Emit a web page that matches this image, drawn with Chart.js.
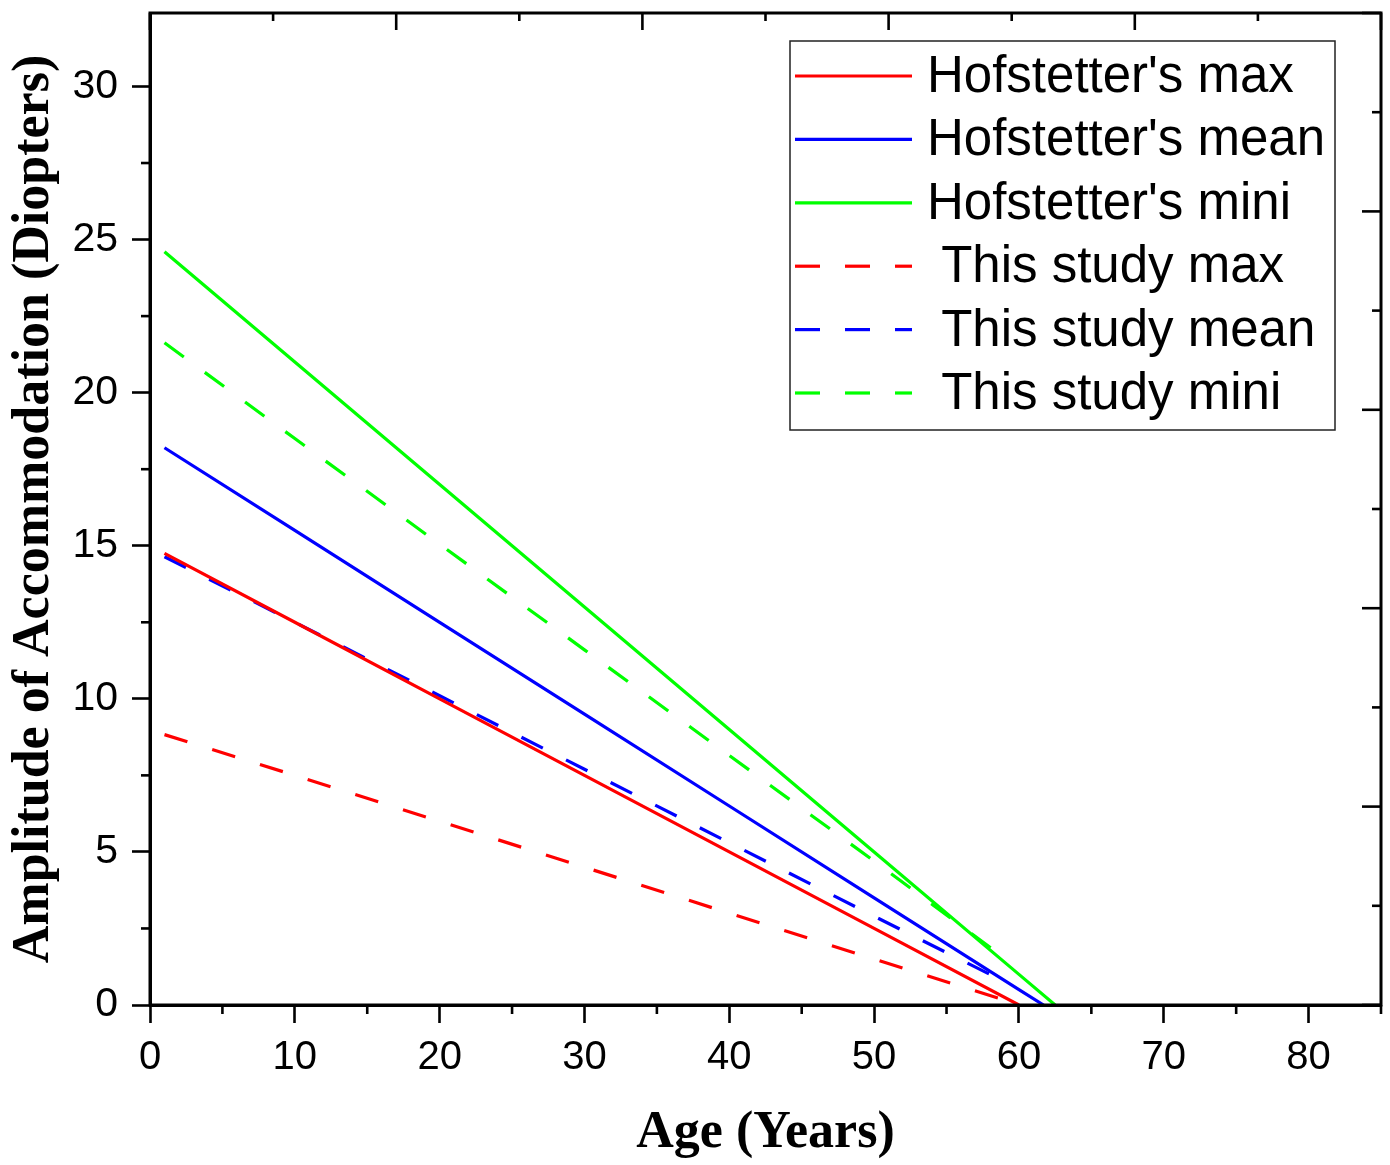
<!DOCTYPE html>
<html>
<head>
<meta charset="utf-8">
<script src="https://cdn.jsdelivr.net/npm/chart.js@4.4.1/dist/chart.umd.min.js"></script>
<style>
  body { margin: 0; background: #fff; }
  #wrap { width: 1390px; height: 1165px; }
</style>
</head>
<body>
<div id="wrap"><canvas id="ampChart" width="1390" height="1165"></canvas></div>
<script>
// values (age in years, amplitude in diopters)
var hofMaxAge = [1, 10, 20, 30, 40, 50, 60];
var hofMaxVal = [14.75, 12.5, 10.0, 7.5, 5.0, 2.5, 0.0];

var hofMeanAge = [1, 10, 20, 30, 40, 50, 60, 61.7];
var hofMeanVal = [18.2, 15.5, 12.5, 9.5, 6.5, 3.5, 0.5, 0.0];

var hofMiniAge = [1, 10, 20, 30, 40, 50, 60, 62.5];
var hofMiniVal = [24.6, 21.0, 17.0, 13.0, 9.0, 5.0, 1.0, 0.0];

var studyMaxAge = [1, 10, 20, 30, 40, 50, 59.4];
var studyMaxVal = [8.83, 7.5, 6.0, 4.5, 3.0, 1.5, 0.1];

var studyMeanAge = [1, 10, 20, 30, 40, 50, 58.2];
var studyMeanVal = [14.64, 12.5, 10.1, 7.7, 5.3, 2.9, 0.95];

var studyMiniAge = [1, 10, 20, 30, 40, 50, 58.1];
var studyMiniVal = [21.63, 18.5, 15.05, 11.6, 8.15, 4.7, 1.85];

var seriesNames = ["Hofstetter's max", "Hofstetter's mean", "Hofstetter's mini",
                   " This study max", " This study mean", " This study mini"];

var xTitle = "Age (Years)";
var yTitle = "Amplitude of Accommodation (Diopters)";

// pair up ages and values into {x, y} points
function pts(ages, vals) {
  return ages.map(function (a, i) { return { x: a, y: vals[i] }; });
}

function lineSet(label, ages, vals, color, dashed) {
  return {
    label: label,
    data: pts(ages, vals),
    borderColor: color,
    borderWidth: 3.2,
    borderDash: dashed ? [24, 26] : [],
    pointRadius: 0,
    fill: false,
    tension: 0
  };
}

var ctx = document.getElementById("ampChart").getContext("2d");

// frame, minor ticks, inward top/right ticks and the boxed legend
var frameAndLegend = {
  id: "frameAndLegend",
  afterDraw: function (chart) {
    var c = chart.ctx, a = chart.chartArea, s = chart.scales;
    c.save();
    c.strokeStyle = "#000";
    c.lineCap = "butt";

    c.lineWidth = 2.6;
    // minor ticks on bottom and left (outward)
    s.x.ticks.forEach(function (t) {
      if (t.value % 10 !== 0) {
        var px = s.x.getPixelForValue(t.value);
        c.beginPath(); c.moveTo(px, a.bottom); c.lineTo(px, a.bottom + 9); c.stroke();
      }
    });
    s.y.ticks.forEach(function (t) {
      if (t.value % 5 !== 0) {
        var py = s.y.getPixelForValue(t.value);
        c.beginPath(); c.moveTo(a.left - 9, py); c.lineTo(a.left, py); c.stroke();
      }
    });
    // top and right ticks (inward)
    s.x2.ticks.forEach(function (t) {
      var px = s.x2.getPixelForValue(t.value);
      var len = t.value % 1 === 0 ? 17 : 8;
      c.beginPath(); c.moveTo(px, a.top); c.lineTo(px, a.top + len); c.stroke();
    });
    s.y2.ticks.forEach(function (t) {
      var py = s.y2.getPixelForValue(t.value);
      var len = t.value % 1 === 0 ? 19 : 9;
      c.beginPath(); c.moveTo(a.right, py); c.lineTo(a.right - len, py); c.stroke();
    });

    // frame
    c.lineWidth = 3;
    c.strokeRect(a.left, a.top, a.right - a.left, a.bottom - a.top);

    // legend box
    var bx = a.left + 640, by = a.top + 28, bw = 545, bh = 389;
    c.fillStyle = "#fff";
    c.fillRect(bx, by, bw, bh);
    c.lineWidth = 1.5;
    c.strokeStyle = "#222";
    c.strokeRect(bx, by, bw, bh);

    c.font = "51px 'Liberation Sans', Arial, sans-serif";
    c.textBaseline = "middle";
    c.textAlign = "left";
    chart.data.datasets.forEach(function (ds, i) {
      var ry = by + 35 + i * 63.4;
      c.strokeStyle = ds.borderColor;
      c.lineWidth = 3.2;
      c.setLineDash(ds.borderDash.length ? [25, 25] : []);
      c.beginPath(); c.moveTo(bx + 5, ry); c.lineTo(bx + 122, ry); c.stroke();
      c.setLineDash([]);
      c.fillStyle = "#000";
      c.fillText(ds.label, bx + 137, ry + 2);
    });
    c.restore();
  }
};

var ampChart = new Chart(ctx, {
  type: "line",
  data: {
    datasets: [
      lineSet(seriesNames[0], hofMaxAge, hofMaxVal, "#ff0000", false),
      lineSet(seriesNames[1], hofMeanAge, hofMeanVal, "#0000ff", false),
      lineSet(seriesNames[2], hofMiniAge, hofMiniVal, "#00ff00", false),
      lineSet(seriesNames[3], studyMaxAge, studyMaxVal, "#ff0000", true),
      lineSet(seriesNames[4], studyMeanAge, studyMeanVal, "#0000ff", true),
      lineSet(seriesNames[5], studyMiniAge, studyMiniVal, "#00ff00", true)
    ]
  },
  options: {
    responsive: false,
    animation: false,
    layout: { padding: { top: 13, right: 9, left: 0, bottom: 0 } },
    plugins: {
      legend: { display: false },
      tooltip: { enabled: false }
    },
    scales: {
      x: {
        type: "linear",
        position: "bottom",
        min: 0,
        max: 85,
        ticks: {
          stepSize: 5,
          includeBounds: false,
          maxRotation: 0,
          autoSkip: false,
          padding: 11,
          color: "#000",
          font: { family: "'Liberation Sans', Arial, sans-serif", size: 40 },
          callback: function (v) { return v % 10 === 0 ? v : ""; }
        },
        grid: {
          display: true,
          drawOnChartArea: false,
          tickLength: 18,
          tickWidth: 2.6,
          tickColor: function (c) { return c.tick && c.tick.value % 10 === 0 ? "#000" : "rgba(0,0,0,0)"; }
        },
        border: { display: true, color: "#000", width: 3 },
        title: {
          display: true,
          text: xTitle,
          color: "#000",
          font: { family: "'Liberation Serif', 'Times New Roman', serif", size: 52, weight: "bold" },
          padding: { top: 0, bottom: 0 }
        },
        afterFit: function (scale) {
          scale.height = 160;
          scale.paddingLeft = 0;
          scale.paddingRight = 0;
        }
      },
      y: {
        type: "linear",
        position: "left",
        min: 0,
        max: 32.4,
        ticks: {
          stepSize: 2.5,
          includeBounds: false,
          autoSkip: false,
          padding: 14,
          color: "#000",
          font: { family: "'Liberation Sans', Arial, sans-serif", size: 41 },
          callback: function (v) { return v % 5 === 0 ? v : ""; }
        },
        grid: {
          display: true,
          drawOnChartArea: false,
          tickLength: 18,
          tickWidth: 2.6,
          tickColor: function (c) { return c.tick && c.tick.value % 5 === 0 ? "#000" : "rgba(0,0,0,0)"; }
        },
        border: { display: true, color: "#000", width: 3 },
        title: {
          display: true,
          text: yTitle,
          color: "#000",
          font: { family: "'Liberation Serif', 'Times New Roman', serif", size: 52, weight: "bold" },
          padding: { top: 3, bottom: 0 }
        },
        afterFit: function (scale) {
          scale.width = 150;
          scale.paddingTop = 0;
          scale.paddingBottom = 0;
        }
      },
      x2: {
        type: "linear",
        position: "top",
        min: 0,
        max: 5,
        ticks: { stepSize: 0.5, display: false },
        grid: { display: false },
        border: { display: false },
        afterFit: function (scale) { scale.height = 0; scale.paddingLeft = 0; scale.paddingRight = 0; }
      },
      y2: {
        type: "linear",
        position: "right",
        min: 0,
        max: 5,
        ticks: { stepSize: 0.5, display: false },
        grid: { display: false },
        border: { display: false },
        afterFit: function (scale) { scale.width = 0; scale.paddingTop = 0; scale.paddingBottom = 0; }
      }
    }
  },
  plugins: [frameAndLegend]
});
</script>
</body>
</html>
